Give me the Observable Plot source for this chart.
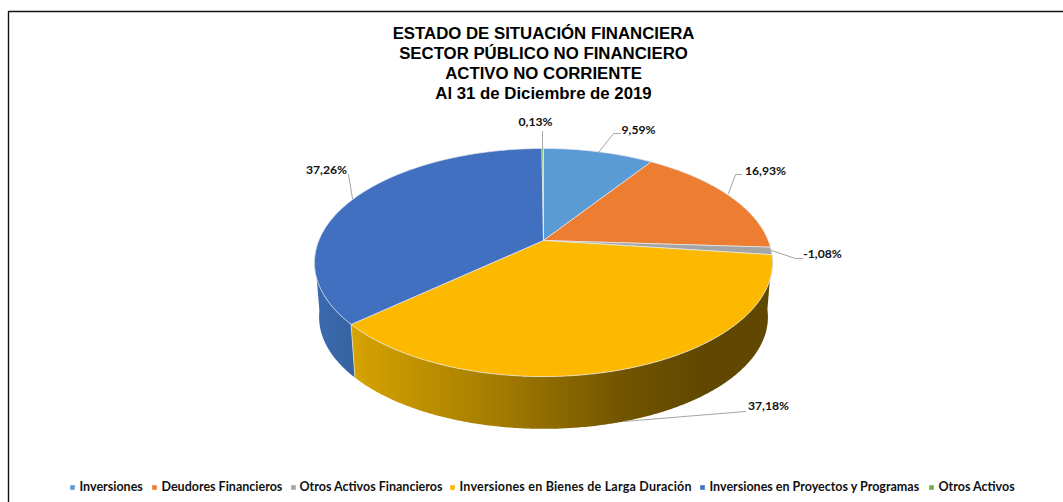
<!DOCTYPE html>
<html><head><meta charset="utf-8">
<style>html,body{margin:0;background:#fff}svg{display:block}</style>
<script src="https://cdn.jsdelivr.net/npm/d3@7"></script>
<script src="https://cdn.jsdelivr.net/npm/@observablehq/plot@0.6"></script>
</head><body>
<script>
const categories = ["Inversiones","Deudores Financieros","Otros Activos Financieros","Inversiones en Bienes de Larga Duración","Inversiones en Proyectos y Programas","Otros Activos"];
const shares = [9.59,16.93,-1.08,37.18,37.26,0.13];
const shareLabels = ["9,59%","16,93%","-1,08%","37,18%","37,26%","0,13%"];
const colors = ["#5b9bd5","#ed7d31","#a5a5a5","#fcb900","#4070bf","#70ad47"];
const titleLines = ["ESTADO DE SITUACIÓN FINANCIERA","SECTOR PÚBLICO NO FINANCIERO","ACTIVO NO CORRIENTE","Al 31 de Diciembre de 2019"];

// layout
const W=1063,H=502;
const cx=543, cyTop=240, cyBot=295, A=224.7, B=109.8, K=0.193, BOT=0.98;
const wallEndAngle=262;
const labelAt=[[638,130],[765,171],[822,254],[768,406],[326,170],[535,122]];
const leaders=[[[598,152],[613,133],[620,133]],[[728,193],[735,174],[741,174]],[[771,250],[795,258],[802,258]],[[745,411],[623,421]],[[348,174],[352,198]],[[542,148],[542,131]]];
const legendSwatchX=[72,154,293,452,702,931];
const legendTextX=[79,161,299,459,709,938];
const titleY=[33,53,73,93];

const pt=(deg,cy,s=1)=>{const t=deg*Math.PI/180,X=Math.sin(t),Y=Math.cos(t),w=1+K*Y;return [cx+s*A*X/w,cy-s*B*Y/w];};
const total=d3.sum(shares,Math.abs);
let acc=0;
const slices=shares.map((v,i)=>{const a0=acc/total*360;acc+=Math.abs(v);return {i,a0,a1:acc/total*360};});

// top face polygons
const topPts=slices.flatMap(s=>{
  const n=Math.max(2,Math.ceil(s.a1-s.a0)*2), r=[{id:s.i,p:[cx,cyTop]}];
  for(let j=0;j<=n;j++) r.push({id:s.i,p:pt(s.a0+(s.a1-s.a0)*j/n,cyTop)});
  r.push({id:s.i,p:[cx,cyTop]});
  return r;
});

// side wall polygon for the visible part of a slice: top arc forward, bottom arc back
const wall=(a0,a1)=>{
  const n=Math.ceil(a1-a0)*2,r=[];
  for(let j=0;j<=n;j++) r.push(pt(a0+(a1-a0)*j/n,cyTop));
  for(let j=n;j>=0;j--) r.push(pt(a0+(a1-a0)*j/n,cyBot,BOT));
  return r;
};
const seamAngle=slices[3].a1;
const seam=[pt(seamAngle,cyTop),pt(seamAngle,cyBot,BOT)];

const leaderPts=leaders.flatMap((l,i)=>l.map(p=>({id:i,p})));
const labelRows=shareLabels.map((t,i)=>({t,p:labelAt[i]}));
const legendRows=categories.map((t,i)=>({t,col:colors[i],sx:legendSwatchX[i],tx:legendTextX[i]}));
const titleRows=titleLines.map((t,i)=>({t,y:titleY[i]}));
const frame=[[8,502],[8,11],[1063,11]];

const chart=Plot.plot({
  width:W,height:H,margin:0,
  style:{background:"#fff"},
  x:{domain:[0,W],range:[0,W],axis:null},
  y:{domain:[0,H],range:[0,H],axis:null},
  marks:[
    Plot.line(frame,{x:d=>d[0],y:d=>d[1],stroke:"#111",strokeWidth:1.4}),
    Plot.line(wall(slices[4].a0,wallEndAngle),{x:d=>d[0],y:d=>d[1],fill:"url(#wallBlue)",stroke:"none",curve:"linear"}),
    Plot.line(wall(slices[3].a0,slices[3].a1),{x:d=>d[0],y:d=>d[1],fill:"url(#wallGold)",stroke:"none",curve:"linear"}),
    Plot.line(seam,{x:d=>d[0],y:d=>d[1],stroke:"#e4e0c8",strokeWidth:0.8,curve:"linear"}),
    Plot.line(topPts,{x:d=>d.p[0],y:d=>d.p[1],z:"id",fill:d=>colors[d.id],stroke:"#e6ebf2",strokeWidth:0.7,strokeLinejoin:"round",curve:"linear"}),
    Plot.line(leaderPts,{x:d=>d.p[0],y:d=>d.p[1],z:"id",stroke:"#a6a6a6",strokeWidth:1,curve:"linear"}),
    Plot.text(labelRows,{x:d=>d.p[0],y:d=>d.p[1],text:"t",fontFamily:"Lato",fontWeight:700,fontSize:12.2,fill:"#111"}),
    Plot.text(titleRows,{x:()=>cx,y:"y",text:"t",fontFamily:"Liberation Sans",fontWeight:700,fontSize:16.8,fill:"#000"}),
    Plot.dot(legendRows,{x:"sx",y:()=>487,symbol:"square",r:2.6,fill:"col",stroke:"none"}),
    Plot.text(legendRows,{x:"tx",y:()=>486,text:"t",textAnchor:"start",fontFamily:"Lato",fontWeight:700,fontSize:12.5,fill:"#111"})
  ]
});
const defs=d3.select(chart).insert("defs",":first-child");
const grad=(id,stops)=>{
  const g=defs.append("linearGradient").attr("id",id).attr("gradientUnits","userSpaceOnUse")
    .attr("x1",stops[0][0]).attr("x2",stops[stops.length-1][0]).attr("y1",0).attr("y2",0);
  const span=stops[stops.length-1][0]-stops[0][0];
  stops.forEach(([x,c])=>g.append("stop").attr("offset",(x-stops[0][0])/span).attr("stop-color",c));
};
grad("wallGold",[[352,"#d6a300"],[490,"#a67e00"],[620,"#725500"],[700,"#604800"]]);
grad("wallBlue",[[316,"#3b6ab0"],[356,"#36629f"]]);
d3.select(chart).selectAll("text").filter(function(){return this.textContent===categories[3];}).attr("textLength",232);
document.body.appendChild(chart);
</script>
</body></html>
